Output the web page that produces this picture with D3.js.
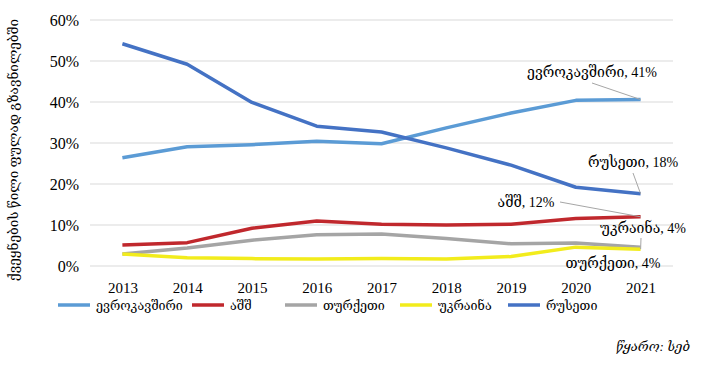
<!DOCTYPE html>
<html>
<head>
<meta charset="utf-8">
<script src="https://cdn.jsdelivr.net/npm/d3@7"></script>
<style>
  body { margin: 0; background: #fff; }
  text { font-family: "Liberation Serif", "DejaVu Serif", serif; }
</style>
</head>
<body>
<div id="chart"></div>
<script>
var years = ["2013","2014","2015","2016","2017","2018","2019","2020","2021"];
var eu      = [26.4, 29.1, 29.6, 30.4, 29.8, 33.7, 37.3, 40.4, 40.6];
var usa     = [5.1, 5.7, 9.2, 11.0, 10.2, 10.0, 10.2, 11.6, 12.0];
var turkey  = [2.9, 4.4, 6.3, 7.6, 7.8, 6.7, 5.4, 5.6, 4.6];
var ukraine = [2.9, 2.0, 1.8, 1.7, 1.8, 1.7, 2.3, 4.6, 4.1];
var russia  = [54.2, 49.2, 39.9, 34.1, 32.7, 28.8, 24.6, 19.2, 17.6];
var yTicks = [0, 10, 20, 30, 40, 50, 60];

var names = ["ევროკავშირი", "აშშ", "თურქეთი", "უკრაინა", "რუსეთი"];
var colors = ["#5b9bd5", "#c0282d", "#a5a5a5", "#f2ec1c", "#4472c4"];
var series = [eu, usa, turkey, ukraine, russia];

var width = 720, height = 375;
var svg = d3.select("#chart").append("svg")
  .attr("width", width).attr("height", height);

var x = d3.scalePoint().domain(years).range([90, 673]).padding(0.5);
var y = d3.scaleLinear().domain([0, 60]).range([266, 20]);

// gridlines
svg.append("g").selectAll("line").data(yTicks).enter().append("line")
  .attr("x1", 90).attr("x2", 673)
  .attr("y1", function(d) { return y(d); })
  .attr("y2", function(d) { return y(d); })
  .attr("stroke", "#d9d9d9").attr("stroke-width", 1);

// y axis
var yAxis = svg.append("g").attr("transform", "translate(82,0)")
  .call(d3.axisLeft(y).tickValues(yTicks).tickSize(0).tickFormat(function(d) { return d + "%"; }));
yAxis.select(".domain").remove();
yAxis.selectAll("text").attr("font-size", 16).attr("fill", "#000")
  .style("font-family", "'Liberation Serif', serif");

// x axis
var xAxis = svg.append("g").attr("transform", "translate(0,276)")
  .call(d3.axisBottom(x).tickSize(0));
xAxis.select(".domain").remove();
xAxis.selectAll("text").attr("font-size", 15).attr("fill", "#000").attr("dy", "0.9em")
  .style("font-family", "'Liberation Serif', serif");

// y title
svg.append("text")
  .attr("transform", "translate(18,150) rotate(-90)")
  .attr("text-anchor", "middle")
  .attr("font-size", 13.5)
  .attr("fill", "#000")
  .text("ქვეყნების წილი ფულად გზავნილებში");

// lines
var line = d3.line()
  .x(function(d, i) { return x(years[i]); })
  .y(function(d) { return y(d); });

var order = [2, 3, 1, 0, 4];
order.forEach(function(k) {
  svg.append("path")
    .datum(series[k])
    .attr("d", line)
    .attr("fill", "none")
    .attr("stroke", colors[k])
    .attr("stroke-width", 3.5)
    .attr("stroke-linejoin", "round");
});

// end labels with leader lines
var last = years.length - 1;
var endLabels = [
  {k: 0, text: "ევროკავშირი, 41%", tx: 592, ty: 77, lx: 592, ly: 83},
  {k: 4, text: "რუსეთი, 18%", tx: 633, ty: 167, lx: 633, ly: 173},
  {k: 1, text: "აშშ, 12%", tx: 526, ty: 207, lx: 560, ly: 202},
  {k: 3, text: "უკრაინა, 4%", tx: 643, ty: 233, lx: 641, ly: 238},
  {k: 2, text: "თურქეთი, 4%", tx: 613, ty: 268, lx: null, ly: null}
];
endLabels.forEach(function(l) {
  var px = x(years[last]), py = y(series[l.k][last]);
  if (l.lx !== null) {
    svg.append("line")
      .attr("x1", l.lx).attr("y1", l.ly).attr("x2", px).attr("y2", py)
      .attr("stroke", "#a6a6a6").attr("stroke-width", 1);
  }
  svg.append("text")
    .attr("x", l.tx).attr("y", l.ty)
    .attr("text-anchor", "middle")
    .attr("font-size", 14)
    .attr("fill", "#000")
    .text(l.text);
});

// legend
var legendX = [58, 192, 285, 400, 508];
var legend = svg.append("g");
names.forEach(function(n, i) {
  legend.append("line")
    .attr("x1", legendX[i]).attr("x2", legendX[i] + 32)
    .attr("y1", 305).attr("y2", 305)
    .attr("stroke", colors[i]).attr("stroke-width", 3.5);
  legend.append("text")
    .attr("x", legendX[i] + 38).attr("y", 310)
    .attr("font-size", 12.5).attr("fill", "#000")
    .text(n);
});

// source
svg.append("text")
  .attr("x", 690).attr("y", 351)
  .attr("text-anchor", "end")
  .attr("font-size", 13)
  .attr("font-style", "italic")
  .attr("fill", "#000")
  .text("წყარო: სებ");
</script>
</body>
</html>
